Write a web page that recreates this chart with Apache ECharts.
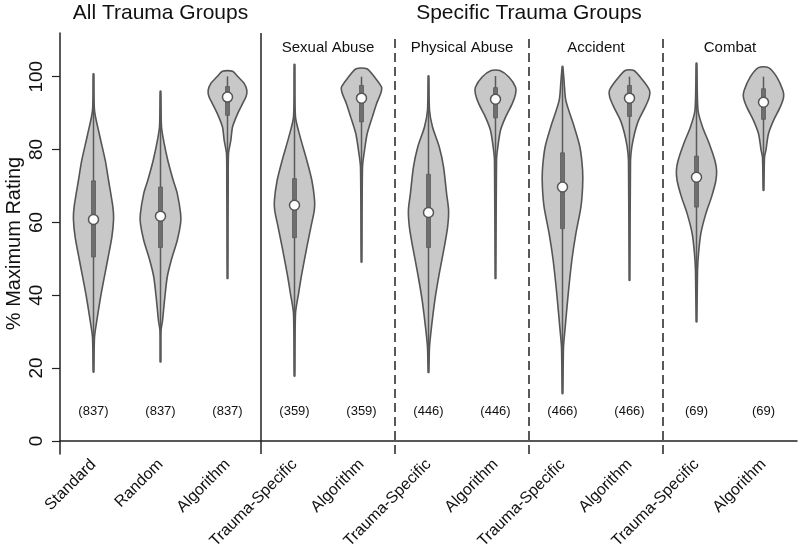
<!DOCTYPE html>
<html>
<head>
<meta charset="utf-8">
<script src="https://cdn.jsdelivr.net/npm/echarts@6/dist/echarts.min.js"></script>
<style>html,body{margin:0;padding:0;background:#fff}#c{width:800px;height:549px}</style>
</head>
<body>
<div id="c"></div>
<script>
// ---- data ----
var categories = ['Standard','Random','Algorithm','Trauma-Specific','Algorithm','Trauma-Specific','Algorithm','Trauma-Specific','Algorithm','Trauma-Specific','Algorithm'];
var counts = [837,837,837,359,359,446,446,466,466,69,69];
var medians = [60.8,61.7,94.4,64.7,94.1,62.7,93.8,69.7,94.1,72.4,93.0];
var q1 = [50.5,53.1,89.4,55.8,87.6,53.1,88.7,58.3,89.1,64.2,88.3];
var q3 = [71.4,69.7,97.3,72.0,97.6,73.2,97.0,79.1,97.6,78.2,96.7];
var lows = [18.9,21.7,44.6,17.8,49.1,18.8,44.6,13.0,44.1,32.7,68.8];
var highs = [100.8,96.0,100.1,103.4,100.0,100.2,100.2,102.8,100.0,103.7,100.0];
var yTicks = [0,20,40,60,80,100];
var groupTitles = ['All Trauma Groups','Specific Trauma Groups'];
var groupRanges = [[0,2],[3,10]];
var subgroupTitles = ['Sexual Abuse','Physical Abuse','Accident','Combat'];
var subgroupRanges = [[3,4],[5,6],[7,8],[9,10]];
var solidSeparators = [2];
var dashedSeparators = [4,6,8];

// violin density profiles: [value, relative density]
var densStandard = [[18.9,0.015],[28.5,0.05],[33,0.165],[40.5,0.385],[49.6,0.7],[56,0.915],[61,1.0],[64.2,0.965],[71.5,0.75],[77,0.585],[84,0.3],[90.7,0.05],[100.8,0.015]];
var densRandom = [[21.7,0.015],[30.3,0.025],[33,0.1],[38.6,0.2],[45,0.335],[49.6,0.535],[55.1,0.835],[59.7,1.0],[62.4,1.0],[67.9,0.835],[71.5,0.635],[77,0.365],[81.6,0.185],[86.2,0.05],[96,0.015]];
var densAlgoAll = [[44.6,0.015],[60,0.025],[70,0.035],[78.9,0.05],[82.5,0.165],[86.2,0.25],[89.8,0.5],[92.6,0.75],[94.4,0.915],[96.2,0.965],[98.1,0.835],[99.9,0.535],[101.5,0.25]];
var densSexualTS = [[17.8,0.015],[35,0.05],[40.4,0.2],[45.9,0.365],[53.2,0.615],[58.7,0.815],[63.3,0.985],[66,1.0],[71.5,0.865],[77,0.615],[83.4,0.285],[88.9,0.05],[103.4,0.015]];
var densSexualAlg = [[49.1,0.015],[75.2,0.05],[79.8,0.15],[84.4,0.285],[88.9,0.535],[92.6,0.75],[95.3,0.95],[97.1,1.0],[99.9,0.65],[102.2,0.265]];
var densPhysicalTS = [[18.8,0.015],[25.8,0.05],[31.3,0.15],[38.6,0.315],[45.9,0.535],[53.2,0.785],[58.7,0.95],[63.3,1.0],[67.9,0.9],[75.2,0.75],[80.7,0.535],[86.2,0.2],[90.8,0.05],[100.2,0.015]];
var densPhysicalAlg = [[44.6,0.015],[77,0.05],[80.7,0.115],[85.3,0.25],[88.9,0.5],[92.6,0.835],[95.3,1.0],[97.1,1.0],[99.9,0.665],[101.7,0.215]];
var densAccidentTS = [[13.0,0.015],[25.8,0.05],[31.3,0.135],[40.4,0.285],[49.6,0.465],[56.9,0.665],[64.2,0.915],[69.7,1.0],[74.3,1.0],[80.7,0.865],[86.2,0.585],[93.5,0.165],[99,0.075],[102.8,0.015]];
var densAccidentAlg = [[44.1,0.015],[77,0.05],[80.7,0.115],[84.4,0.25],[88,0.45],[91.7,0.785],[94.4,0.985],[96.2,1.0],[99,0.665],[101.7,0.215]];
var densCombatTS = [[32.7,0.015],[46.8,0.05],[51.4,0.1],[56.9,0.215],[62.4,0.465],[67,0.75],[71.5,0.965],[74.3,1.0],[77,0.915],[81.6,0.635],[86.2,0.3],[90.8,0.075],[103.7,0.015]];
var densCombatAlg = [[68.8,0.015],[77.9,0.05],[80,0.125],[81.6,0.165],[84.4,0.25],[88,0.5],[91.7,0.835],[94.4,1.0],[96.2,0.965],[99.9,0.665],[102.5,0.25]];
var profiles = [densStandard,densRandom,densAlgoAll,densSexualTS,densSexualAlg,densPhysicalTS,densPhysicalAlg,densAccidentTS,densAccidentAlg,densCombatTS,densCombatAlg];

// ---- chart ----
var FONT = '"Liberation Sans", Arial, Helvetica, sans-serif';
var chart = echarts.init(document.getElementById('c'), null, {renderer: 'canvas'});

function renderViolin(params, api) {
  var i = params.dataIndex;
  var idx = api.value(0);
  var band = api.size([1, 0])[0];
  var half = band * 0.3;
  var prof = profiles[i];
  var pts = [];
  var k, c;
  for (k = 0; k < prof.length; k++) {
    c = api.coord([idx, prof[k][0]]);
    pts.push([c[0] + prof[k][1] * half, c[1]]);
  }
  for (k = prof.length - 1; k >= 0; k--) {
    c = api.coord([idx, prof[k][0]]);
    pts.push([c[0] - prof[k][1] * half, c[1]]);
  }
  var lo = api.coord([idx, lows[i]]);
  var hi = api.coord([idx, highs[i]]);
  var b1 = api.coord([idx, q1[i]]);
  var b3 = api.coord([idx, q3[i]]);
  var md = api.coord([idx, medians[i]]);
  var tc = api.coord([idx, 8]);
  return {
    type: 'group',
    children: [
      {type: 'polygon', shape: {points: pts, smooth: 0.25}, style: {fill: '#c8c8c8', stroke: '#555', lineWidth: 1.6}},
      {type: 'line', shape: {x1: lo[0], y1: lo[1], x2: hi[0], y2: hi[1]}, style: {stroke: '#5a5a5a', lineWidth: 1.5}},
      {type: 'rect', shape: {x: b1[0] - 2, y: b3[1], width: 4, height: b1[1] - b3[1]}, style: {fill: '#6e6e6e', stroke: '#5a5a5a', lineWidth: 0.8}},
      {type: 'circle', shape: {cx: md[0], cy: md[1], r: 5}, style: {fill: '#fff', stroke: '#555', lineWidth: 1.5}},
      {type: 'text', style: {x: tc[0], y: tc[1], text: '(' + counts[i] + ')', fill: '#111', font: '13px ' + FONT, textAlign: 'center', textVerticalAlign: 'middle'}}
    ]
  };
}

function renderFrame(params, api) {
  var cs = params.coordSys;
  var band = api.size([1, 0])[0];
  var children = [];
  var k, x;
  for (k = 0; k < solidSeparators.length; k++) {
    x = api.coord([solidSeparators[k], 0])[0] + band / 2;
    children.push({type: 'line', shape: {x1: x, y1: cs.y, x2: x, y2: cs.y + cs.height}, style: {stroke: '#222', lineWidth: 1.5}});
  }
  for (k = 0; k < dashedSeparators.length; k++) {
    x = api.coord([dashedSeparators[k], 0])[0] + band / 2;
    children.push({type: 'line', shape: {x1: x, y1: cs.y + 6, x2: x, y2: cs.y + cs.height}, style: {stroke: '#222', lineWidth: 1.5, lineDash: [9, 5]}});
  }
  for (k = 0; k < groupTitles.length; k++) {
    x = (api.coord([groupRanges[k][0], 0])[0] + api.coord([groupRanges[k][1], 0])[0]) / 2;
    children.push({type: 'text', style: {x: x, y: cs.y - 20, text: groupTitles[k], fill: '#111', font: '21px ' + FONT, textAlign: 'center', textVerticalAlign: 'middle'}});
  }
  for (k = 0; k < subgroupTitles.length; k++) {
    x = (api.coord([subgroupRanges[k][0], 0])[0] + api.coord([subgroupRanges[k][1], 0])[0]) / 2;
    var yy = api.coord([0, 108])[1];
    children.push({type: 'text', style: {x: x, y: yy, text: subgroupTitles[k], fill: '#111', font: '15px ' + FONT, textAlign: 'center', textVerticalAlign: 'middle'}});
  }
  return {type: 'group', children: children};
}

var option = {
  animation: false,
  backgroundColor: '#fff',
  grid: {left: 60, right: 3, top: 33, bottom: 95, containLabel: false, outerBoundsMode: 'none'},
  xAxis: {
    type: 'category',
    data: categories,
    axisLine: {show: true, lineStyle: {color: '#222', width: 1.5}},
    axisTick: {show: false},
    axisLabel: {rotate: 45, margin: 8, color: '#111', fontSize: 16, fontFamily: FONT, interval: 0},
    splitLine: {show: false}
  },
  yAxis: {
    type: 'value',
    min: -3.6,
    max: 112,
    name: '% Maximum Rating',
    nameLocation: 'middle',
    nameGap: 36,
    nameMoveOverlap: false,
    nameTextStyle: {color: '#111', fontSize: 20, fontFamily: FONT},
    axisLine: {show: true, lineStyle: {color: '#222', width: 1.5}},
    axisTick: {show: true, length: 8, customValues: yTicks, lineStyle: {color: '#222', width: 1.2}},
    axisLabel: {customValues: yTicks, rotate: 90, margin: 14, color: '#111', fontSize: 19, fontFamily: FONT},
    splitLine: {show: false}
  },
  series: [
    {
      type: 'custom',
      renderItem: renderViolin,
      data: categories.map(function (c, i) { return [i]; }),
      encode: {x: 0},
      clip: false,
      silent: true
    },
    {
      type: 'custom',
      renderItem: renderFrame,
      data: [[0]],
      encode: {x: 0},
      clip: false,
      silent: true
    }
  ]
};
chart.setOption(option);
</script>
</body>
</html>
